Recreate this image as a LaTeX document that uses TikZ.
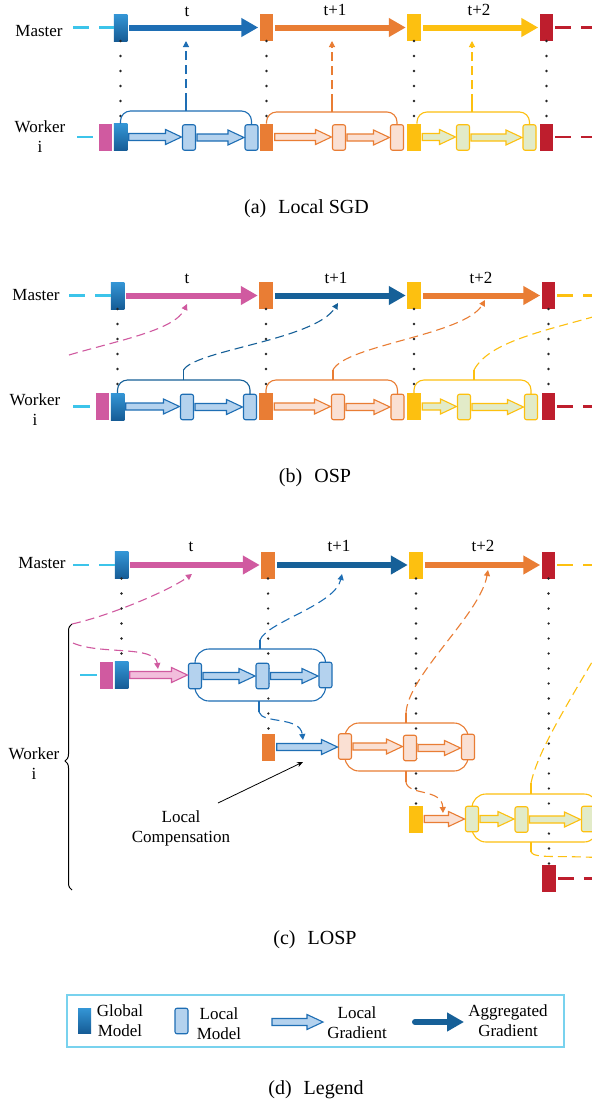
\documentclass[tikz,border=0pt]{standalone}
\usepackage{fontspec}
\setmainfont{Liberation Serif}
\usetikzlibrary{arrows.meta,calc,decorations.pathreplacing}
\definecolor{gbtop}{RGB}{52,150,214}
\definecolor{gbbot}{RGB}{22,92,150}
\definecolor{cBlue}{RGB}{30,110,180}
\definecolor{cDBlue}{RGB}{22,96,152}
\definecolor{cOrange}{RGB}{233,125,52}
\definecolor{cYellow}{RGB}{253,192,16}
\definecolor{cRed}{RGB}{190,30,45}
\definecolor{cPink}{RGB}{208,90,160}
\definecolor{cCyan}{RGB}{60,196,234}
\definecolor{fBlue}{RGB}{180,210,238}
\definecolor{fPeach}{RGB}{250,224,211}
\definecolor{fGreen}{RGB}{226,235,200}
\definecolor{fPink}{RGB}{242,190,220}
\definecolor{cLegend}{RGB}{120,210,238}
% hollow gradient arrow: #1 start coord, #2 end coord, #3 fill, #4 draw
\newcommand{\harrow}[4]{%
  \path #1 coordinate (hA);
  \path #2 coordinate (hB0);
  \path (hB0 |- hA) coordinate (hB);
  \draw[line width=1.1pt,draw=#4,fill=#3,line join=miter]
    ([xshift=1.5pt,yshift=3.5pt]hA) -- ([xshift=-17pt,yshift=3.5pt]hB)
    -- ([xshift=-17pt,yshift=7.5pt]hB) -- ([xshift=-1pt]hB)
    -- ([xshift=-17pt,yshift=-7.5pt]hB) -- ([xshift=-17pt,yshift=-3.5pt]hB)
    -- ([xshift=1.5pt,yshift=-3.5pt]hA) -- cycle;
}
\begin{document}
\begin{tikzpicture}[x=1pt,y=-1pt,
  font=\fontsize{17}{20}\selectfont,
  gb/.style={minimum width=13.5pt,minimum height=27pt,inner sep=0pt,outer sep=0pt},
  gblue/.style={gb,top color=gbtop,bottom color=gbbot},
  gorg/.style={gb,fill=cOrange},
  gyel/.style={gb,fill=cYellow},
  gred/.style={gb,fill=cRed},
  gpink/.style={gb,fill=cPink},
  lm/.style={minimum width=13pt,minimum height=25.5pt,inner sep=0pt,outer sep=0pt,rounded corners=2pt,line width=1.1pt},
  lblue/.style={lm,draw=cBlue,fill=fBlue},
  lorg/.style={lm,draw=cOrange,fill=fPeach},
  lgrn/.style={lm,draw=cYellow,fill=fGreen},
  agg/.style={line width=6pt,-{Triangle[length=17pt,width=18pt]},shorten <=2pt,shorten >=1.5pt},
  dotline/.style={line width=2.6pt,line cap=round,dash pattern=on 0pt off 15pt,black!85},
  cdash/.style={line width=1.1pt,dash pattern=on 9pt off 5pt},
  dtip/.style={-{Triangle[length=6pt,width=6pt]}},
  brk/.style={line width=1.1pt,rounded corners=10pt},
  stemline/.style={line width=1.1pt},
  lead/.style={line width=2.2pt,dash pattern=on 16pt off 10pt},
  lab/.style={anchor=base,inner sep=0pt},
  mlab/.style={anchor=base,inner sep=0pt,align=center},
  captxt/.style={anchor=base,inner sep=0pt,font=\fontsize{20}{23}\selectfont}]
\useasboundingbox (0,0) rectangle (592,1104);
\fill[white] (0,0) rectangle (592,1104);
\clip (0,0) rectangle (592,1104);

%%%%%%%%%%%%%%%% (a) Local SGD %%%%%%%%%%%%%%%%
\node[lab] (aMaster) at (39,36) {Master};
\node[mlab] (aWorker) at (40,152) {Worker\\i};
\node[gblue] (am1) at (120.5,27.5) {};
\node[gorg]  (am2) at (266.5,27.5) {};
\node[gyel]  (am3) at (414,27.5) {};
\node[gred]  (am4) at (546.5,27.5) {};
\node[gpink] (awp) at (105.5,137) {};
\node[gblue] (aw1) at (120.5,137) {};
\node[gorg]  (aw2) at (266.5,137) {};
\node[gyel]  (aw3) at (414,137) {};
\node[gred]  (aw4) at (546.5,137) {};
\draw[dotline] (am1.south) -- (aw1.north);
\draw[dotline] (am2.south) -- (aw2.north);
\draw[dotline] (am3.south) -- (aw3.north);
\draw[dotline] (am4.south) -- (aw4.north);
\coordinate (amL) at (73,27.5);
\coordinate (amR) at (600,27.5);
\draw[lead,cCyan] (amL) -- (am1.west);
\draw[lead,cRed] ([xshift=2pt]am4.east) -- (amR);
\draw[agg,cBlue] (am1.east) -- (am2.west);
\draw[agg,cOrange] (am2.east) -- (am3.west);
\draw[agg,cYellow] (am3.east) -- (am4.west);
\node[lab] (at1) at (187,16) {t};
\node[lab] (at2) at (335,15) {t+1};
\node[lab] (at3) at (479,15) {t+2};
\node[lblue] (al1) at (189,137.5) {};
\node[lblue] (al2) at (251.5,137.5) {};
\node[lorg]  (al3) at (339,137.5) {};
\node[lorg]  (al4) at (397,137.5) {};
\node[lgrn]  (al5) at (463,137.5) {};
\node[lgrn]  (al6) at (529.5,137.5) {};
\coordinate (awL) at (77,137);
\draw[cCyan,line width=2.2pt] (awL) -- ([xshift=-6pt]awp.west);
\draw[lead,cRed] ([xshift=2pt]aw4.east) -- (600,137);
\harrow{(aw1.east)}{(al1.west)}{fBlue}{cBlue}
\harrow{(al1.east)}{(al2.west)}{fBlue}{cBlue}
\harrow{(aw2.east)}{(al3.west)}{fPeach}{cOrange}
\harrow{(al3.east)}{(al4.west)}{fPeach}{cOrange}
\harrow{(aw3.east)}{(al5.west)}{fGreen}{cYellow}
\harrow{(al5.east)}{(al6.west)}{fGreen}{cYellow}
\coordinate (as1) at (186,111);
\coordinate (as2) at (332,112);
\coordinate (as3) at (472,112);
\draw[brk,cBlue] (aw1.north) |- (as1) -| (al2.north);
\draw[brk,cOrange] (aw2.north) |- (as2) -| (al4.north);
\draw[brk,cYellow] ([xshift=3pt]aw3.north) |- (as3) -| (al6.north);
\draw[stemline,cBlue] (as1) -- ++(0,-9) coordinate (as1t);
\draw[stemline,cOrange] (as2) -- ++(0,-9) coordinate (as2t);
\draw[stemline,cYellow] (as3) -- ++(0,-9) coordinate (as3t);
\draw[cdash,dtip,cBlue] (as1t) -- (as1t |- 0,41);
\draw[cdash,dtip,cOrange] (as2t) -- (as2t |- 0,41);
\draw[cdash,dtip,cYellow] (as3t) -- (as3t |- 0,41);
\node[captxt] (capa) at (306.5,213) {(a)\hspace{0.6em}Local SGD};

%%%%%%%%%%%%%%%% (b) OSP %%%%%%%%%%%%%%%%
\node[lab] (bMaster) at (36,300) {Master};
\node[mlab] (bWorker) at (35,425) {Worker\\i};
\node[gblue] (bm1) at (117.5,295.5) {};
\node[gorg]  (bm2) at (266,295.5) {};
\node[gyel]  (bm3) at (414,295.5) {};
\node[gred]  (bm4) at (548.5,295.5) {};
\node[gpink] (bwp) at (102.5,406.5) {};
\node[gblue] (bw1) at (117.5,406.5) {};
\node[gorg]  (bw2) at (266,406.5) {};
\node[gyel]  (bw3) at (414,406.5) {};
\node[gred]  (bw4) at (548.5,406.5) {};
\draw[dotline] (bm1.south) -- (bw1.north);
\draw[dotline] (bm2.south) -- (bw2.north);
\draw[dotline] (bm3.south) -- (bw3.north);
\draw[dotline] (bm4.south) -- (bw4.north);
\draw[lead,cCyan] (69,295.5) -- (bm1.west);
\draw[lead,cYellow] ([xshift=2pt]bm4.east) -- (600,295.5);
\draw[agg,cPink] (bm1.east) -- (bm2.west);
\draw[agg,cDBlue] (bm2.east) -- (bm3.west);
\draw[agg,cOrange] (bm3.east) -- (bm4.west);
\node[lab] (bt1) at (187,283) {t};
\node[lab] (bt2) at (336,283) {t+1};
\node[lab] (bt3) at (481,283) {t+2};
\node[lblue] (bl1) at (187,407) {};
\node[lblue] (bl2) at (250,407) {};
\node[lorg]  (bl3) at (338,407) {};
\node[lorg]  (bl4) at (397.5,407) {};
\node[lgrn]  (bl5) at (464,407) {};
\node[lgrn]  (bl6) at (531,407) {};
\draw[cCyan,line width=2.2pt] (73,406.5) -- ([xshift=-6pt]bwp.west);
\draw[lead,cRed] ([xshift=2pt]bw4.east) -- (600,406.5);
\harrow{(bw1.east)}{(bl1.west)}{fBlue}{cBlue}
\harrow{(bl1.east)}{(bl2.west)}{fBlue}{cBlue}
\harrow{(bw2.east)}{(bl3.west)}{fPeach}{cOrange}
\harrow{(bl3.east)}{(bl4.west)}{fPeach}{cOrange}
\harrow{(bw3.east)}{(bl5.west)}{fGreen}{cYellow}
\harrow{(bl5.east)}{(bl6.west)}{fGreen}{cYellow}
\coordinate (bs1) at (183.5,380);
\coordinate (bs2) at (333,380);
\coordinate (bs3) at (474,380);
\draw[brk,cDBlue] (bw1.north) |- (bs1) -| (bl2.north);
\draw[brk,cOrange] (bw2.north) |- (bs2) -| (bl4.north);
\draw[brk,cYellow] (bw3.north) |- (bs3) -| (bl6.north);
\draw[stemline,cDBlue] (bs1) -- ++(0,-10) coordinate (bs1t);
\draw[stemline,cOrange] (bs2) -- ++(0,-10) coordinate (bs2t);
\draw[stemline,cYellow] (bs3) -- ++(0,-10) coordinate (bs3t);
\coordinate (bp0) at (69,355);
\draw[cdash,dtip,cPink] (bp0) .. controls (120,340) and (175,330) .. (187,304);
\draw[cdash,dtip,cDBlue] (bs1t) .. controls (195,350) and (315,340) .. (338,303);
\draw[cdash,dtip,cOrange] (bs2t) .. controls (345,345) and (465,335) .. (485,300);
\draw[cdash,cYellow] (bs3t) .. controls (490,340) and (550,330) .. (610,312);
\node[captxt] (capb) at (315,482) {(b)\hspace{0.6em}OSP};

%%%%%%%%%%%%%%%% (c) LOSP %%%%%%%%%%%%%%%%
\node[lab] (cMaster) at (42,568) {Master};
\node[mlab] (cWorker) at (34,779) {Worker\\i};
\node[gblue] (cm1) at (121.5,565) {};
\node[gorg]  (cm2) at (268,565) {};
\node[gyel]  (cm3) at (416,565) {};
\node[gred]  (cm4) at (548.5,565) {};
\node[gpink] (cwp) at (106.5,675) {};
\node[gblue] (cw1) at (121.5,675) {};
\node[gorg]  (cw2) at (268.5,747) {};
\node[gyel]  (cw3) at (416,819) {};
\node[gred]  (cw4) at (549,878.5) {};
\draw[dotline] (cm1.south) -- (cw1.north);
\draw[dotline] (cm2.south) -- (cw2.north);
\draw[dotline] (cm3.south) -- (cw3.north);
\draw[dotline] (cm4.south) -- (cw4.north);
\draw[lead,cCyan] (73,565) -- (cm1.west);
\draw[lead,cYellow] ([xshift=2pt]cm4.east) -- (600,565);
\draw[agg,cPink] (cm1.east) -- (cm2.west);
\draw[agg,cDBlue] (cm2.east) -- (cm3.west);
\draw[agg,cOrange] (cm3.east) -- (cm4.west);
\node[lab] (ct1) at (191,551) {t};
\node[lab] (ct2) at (339,551) {t+1};
\node[lab] (ct3) at (483,551) {t+2};
% rounded boxes
\draw[cBlue,line width=1.1pt,rounded corners=14pt] (195,649) rectangle (325.5,701);
\draw[cOrange,line width=1.1pt,rounded corners=14pt] (345,723) rectangle (468,771);
\draw[cYellow,line width=1.1pt,rounded corners=14pt] (472,794) rectangle (598,842);
% stems and dashed links
\coordinate (cs1) at (260,649);
\coordinate (cs2) at (259,701);
\coordinate (cs3) at (406,723);
\coordinate (cs4) at (406,771);
\coordinate (cs5) at (531,794);
\coordinate (cs6) at (531,842);
\draw[stemline,cBlue] (cs1) -- ++(0,-9) coordinate (cs1t);
\draw[stemline,cBlue] (cs2) -- ++(0,11) coordinate (cs2t);
\draw[stemline,cOrange] (cs3) -- ++(0,-10) coordinate (cs3t);
\draw[stemline,cOrange] (cs4) -- ++(0,11) coordinate (cs4t);
\draw[stemline,cYellow] (cs5) -- ++(0,-11) coordinate (cs5t);
\draw[stemline,cYellow] (cs6) -- ++(0,10) coordinate (cs6t);
\draw[cdash,dtip,cBlue] (cs1t) .. controls (267,622) and (335,605) .. (342,574);
\draw[cdash,dtip,cBlue] (cs2t) .. controls (262,724) and (300,716) .. (303,740);
\draw[cdash,dtip,cOrange] (cs3t) .. controls (408,675) and (480,615) .. (488,570);
\draw[cdash,dtip,cOrange] (cs4t) .. controls (408,796) and (442,788) .. (443,813);
\draw[cdash,cYellow] (cs5t) .. controls (538,750) and (570,700) .. (605,640);
\draw[cdash,cYellow] (cs6t) .. controls (534,859) and (560,855) .. (605,858);
% brace
\coordinate (brT) at (72,624);
\coordinate (brB) at (72,890);
\draw[line width=1pt,decorate,decoration={brace,amplitude=7pt,aspect=0.485}] (brB) -- (brT);
\coordinate (cp1) at (73,643);
\draw[cdash,dtip,cPink] (brT) .. controls (112,615) and (170,590) .. (192,574);
\draw[cdash,dtip,cPink] (cp1) .. controls (100,655) and (155,645) .. (158,669);
% local models
\node[lblue] (cl1) at (195,676) {};
\node[lblue] (cl2) at (262.5,676) {};
\node[lblue] (cl3) at (325.5,675) {};
\node[lorg]  (cl4) at (345,746.5) {};
\node[lorg]  (cl5) at (410,748) {};
\node[lorg]  (cl6) at (468,747) {};
\node[lgrn]  (cl7) at (472,819) {};
\node[lgrn]  (cl8) at (521.5,819.5) {};
\node[lgrn]  (cl9) at (588,819) {};
\draw[cCyan,line width=2.2pt] (80,675) -- ([xshift=-3pt]cwp.west);
\draw[lead,cRed] ([xshift=2pt]cw4.east) -- (600,878.5);
\harrow{(cw1.east)}{(cl1.west)}{fPink}{cPink}
\harrow{(cl1.east)}{(cl2.west)}{fBlue}{cBlue}
\harrow{(cl2.east)}{(cl3.west)}{fBlue}{cBlue}
\harrow{(cw2.east)}{(cl4.west)}{fBlue}{cBlue}
\harrow{(cl4.east)}{(cl5.west)}{fPeach}{cOrange}
\harrow{(cl5.east)}{(cl6.west)}{fPeach}{cOrange}
\harrow{(cw3.east)}{(cl7.west)}{fPeach}{cOrange}
\harrow{(cl7.east)}{(cl8.west)}{fGreen}{cYellow}
\harrow{(cl8.east)}{(cl9.west)}{fGreen}{cYellow}
% local compensation
\node[align=center,inner sep=0pt] (lc) at (181,828) {Local\\Compensation};
\coordinate (lcT) at (303,762);
\draw[line width=0.8pt,-{Stealth[length=6pt,width=5pt]}] (218,803) -- (lcT);
\node[captxt] (capc) at (315,944) {(c)\hspace{0.6em}LOSP};

%%%%%%%%%%%%%%%% (d) Legend %%%%%%%%%%%%%%%%
\draw[cLegend,line width=1.2pt] (67,995) rectangle (564,1047);
\node[gblue,minimum width=13pt,minimum height=25pt] (lgG) at (84.5,1020.5) {};
\node[mlab] (lgGt) at (120,1036) {Global\\Model};
\node[lblue] (lgL) at (181.5,1021) {};
\node[mlab] (lgLt) at (219,1039) {Local\\Model};
\coordinate (lgA1) at (270.5,1022);
\coordinate (lgA2) at (324,1022);
\harrow{(lgA1)}{(lgA2)}{fBlue}{cBlue}
\node[mlab] (lgAt) at (357,1038) {Local\\Gradient};
\coordinate (lgB1) at (415,1022);
\coordinate (lgB2) at (464,1022);
\draw[line width=6pt,cDBlue,line cap=round,-{Triangle[length=17pt,width=18pt]}] (lgB1) -- (lgB2);
\node[mlab] (lgBt) at (508,1036) {Aggregated\\Gradient};
\node[captxt] (capd) at (316,1094) {(d)\hspace{0.6em}Legend};
\end{tikzpicture}
\end{document}
